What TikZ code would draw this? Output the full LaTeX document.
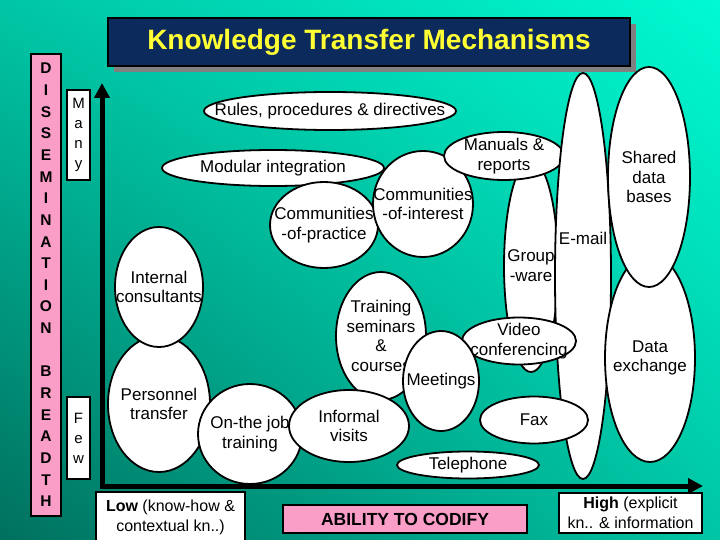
\documentclass[tikz,border=0pt]{standalone}
\usepackage{fontspec}
\setmainfont{Liberation Sans}
\usetikzlibrary{arrows.meta,shapes.geometric,shadows,shadings}

\definecolor{bgdark}{RGB}{0,112,94}
\definecolor{bgmid}{RGB}{0,198,165}
\definecolor{bglight}{RGB}{0,250,210}
\definecolor{titleblue}{RGB}{12,42,92}
\definecolor{titleyellow}{RGB}{255,255,51}
\definecolor{barpink}{RGB}{250,158,200}
\definecolor{shadowgray}{RGB}{128,128,128}

\begin{document}
\begin{tikzpicture}[x=1pt, y=-1pt,
  every node/.style={font=\fontsize{17}{19.8}\selectfont},
  bubble/.style={ellipse, draw, line width=1.8pt, fill=white, align=center, inner sep=-300pt, outer sep=0pt},
  labelbox/.style={draw, line width=1.4pt, fill=white, align=center, inner sep=0pt, outer sep=0pt},
  pinkbox/.style={draw, line width=1.4pt, fill=barpink, align=center, inner sep=0pt, outer sep=0pt},
  axis/.style={line width=5pt, {Triangle[length=15pt,width=15pt]}-{Triangle[length=15pt,width=15pt]}}
]
\useasboundingbox (0,0) rectangle (720,540);
\shade[upper left=bgmid, upper right=bglight, lower left=bgdark, lower right=bgmid] (0,0) rectangle (720,540);

% title
\node[draw, line width=1.4pt, fill=titleblue, minimum width=522pt, minimum height=48pt,
  drop shadow={shadow xshift=6pt, shadow yshift=-6pt, fill=shadowgray, opacity=1},
  text=titleyellow, font=\bfseries\fontsize{28}{32}\selectfont] (title) at (369,42) {Knowledge Transfer Mechanisms};

% left side labels
\node[pinkbox, minimum width=30pt, minimum height=462pt, font=\bfseries\fontsize{15.5}{21.65}\selectfont] (dissem) at (46,285)
  {D\\I\\S\\S\\E\\M\\I\\N\\A\\T\\I\\O\\N\\[21.65pt]B\\R\\E\\A\\D\\T\\H};
\node[labelbox, minimum width=23pt, minimum height=90pt, font=\fontsize{15}{20}\selectfont] (many) at (78.5,135) {M\\a\\n\\y};
\node[labelbox, minimum width=23pt, minimum height=82pt, font=\fontsize{15}{20}\selectfont] (few) at (78.5,438) {F\\e\\w};

% axes
\coordinate (ytop) at (102,83);
\coordinate (origin) at (102,486);
\coordinate (xend) at (703,486);
\draw[axis] (ytop) -- (origin) -- (xend);

% mechanisms
\node[bubble, minimum width=252pt, minimum height=38pt] (rules) at (330,111) {Rules, procedures \& directives};
\node[bubble, minimum width=222pt, minimum height=36pt] (modular) at (273,168) {Modular integration};
\node[bubble, minimum width=108pt, minimum height=86pt] (practice) at (324,225) {Communities\\-of-practice};
\node[bubble, minimum width=100pt, minimum height=106pt] (interest) at (423,204) {Communities\\-of-interest};
\node[bubble, minimum width=54pt, minimum height=212pt] (groupware) at (531,266) {Group\\-ware};
\node[bubble, minimum width=120pt, minimum height=48pt] (manuals) at (504,156) {Manuals \&\\reports};
\node[bubble, minimum width=56pt, minimum height=406pt, text height=12pt, text depth=76pt] (email) at (583,276) {E-mail};
\node[bubble, minimum width=90pt, minimum height=208pt] (dataex) at (650,358) {Data\\exchange};
\node[bubble, minimum width=82pt, minimum height=220pt] (shared) at (649,177) {Shared\\data\\bases};
\node[bubble, minimum width=114pt, minimum height=47pt] (video) at (519,341) {Video\\conferencing};
\node[bubble, minimum width=102pt, minimum height=136pt] (personnel) at (159,404) {Personnel\\transfer};
\node[bubble, minimum width=88pt, minimum height=120pt] (internal) at (159,287) {Internal\\consultants};
\node[bubble, minimum width=104pt, minimum height=100pt] (onjob) at (250,434) {On-the job\\training};
\node[bubble, minimum width=90pt, minimum height=128pt] (training) at (381,336) {Training\\seminars\\\&\\courses};
\node[bubble, minimum width=120pt, minimum height=72pt] (informal) at (349,426) {Informal\\visits};
\node[bubble, minimum width=76pt, minimum height=100pt] (meetings) at (441,381) {Meetings};
\node[bubble, minimum width=108pt, minimum height=47pt] (fax) at (534,420) {Fax};
\node[bubble, minimum width=142pt, minimum height=27pt] (telephone) at (468,465) {Telephone};

% bottom labels
\node[labelbox, minimum width=149pt, minimum height=50pt, font=\fontsize{16}{20}\selectfont] (low) at (170.5,517) {\textbf{Low} (know-how \&\\contextual kn..)};
\node[pinkbox, minimum width=244pt, minimum height=28pt, font=\bfseries\fontsize{17.5}{20}\selectfont] (codify) at (405,519) {ABILITY TO CODIFY};
\node[labelbox, minimum width=143pt, minimum height=40pt, font=\fontsize{16}{20}\selectfont] (high) at (630.5,513) {\textbf{High} (explicit\\kn.. \& information};
\end{tikzpicture}
\end{document}
